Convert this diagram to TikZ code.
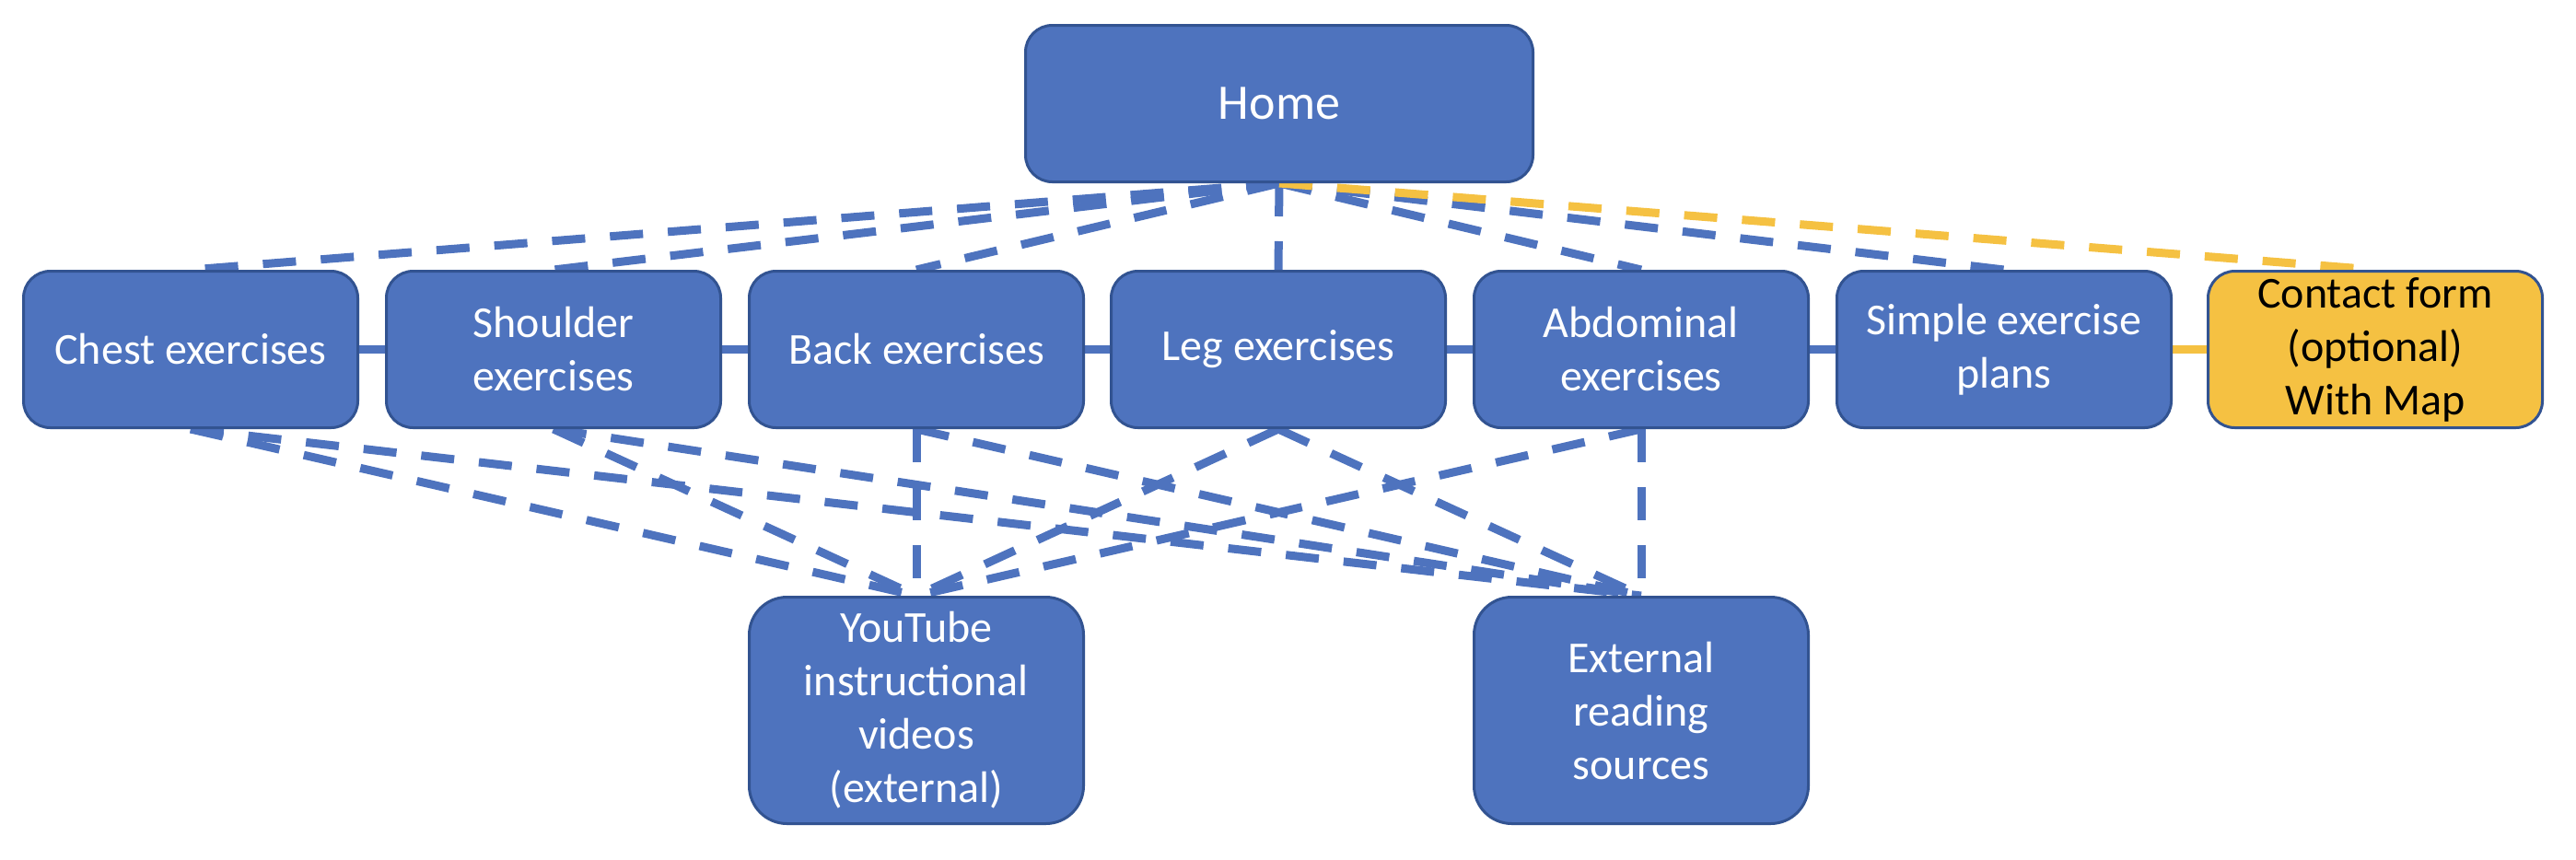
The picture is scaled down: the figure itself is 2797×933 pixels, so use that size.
\documentclass[tikz,border=0pt]{standalone}
\usepackage{fontspec}
\setmainfont{Carlito}
\usetikzlibrary{backgrounds}
\definecolor{boxblue}{RGB}{78,115,190}
\definecolor{boxedge}{RGB}{50,83,145}
\definecolor{boxyellow}{RGB}{245,193,66}
\begin{document}
\begin{tikzpicture}[x=0.5pt,y=-0.5pt,
  box/.style={draw=boxedge, line width=1.5pt, fill=boxblue, rounded corners=14.5pt,
    minimum width=181.5pt, minimum height=85pt, inner sep=0pt, align=center,
    text=white, font=\fontsize{24}{29}\selectfont},
  tallbox/.style={box, minimum height=123pt, rounded corners=20.5pt},
  ybox/.style={box, fill=boxyellow, text=black},
  link/.style={draw=boxblue, line width=4.5pt, dash pattern=on 18pt off 13.5pt},
  ylink/.style={link, draw=boxyellow},
  bar/.style={draw=boxblue, line width=4.5pt},
  ybar/.style={bar, draw=boxyellow}]
\useasboundingbox (0,0) rectangle (2797,933);

\node[box, minimum width=275.5pt, font=\fontsize{27}{32}\selectfont] (home) at (1389,112.5) {Home};

\node[box] (chest)    at (207,379.5)  {Chest exercises};
\node[box] (shoulder) at (601,379.5)  {Shoulder\\exercises};
\node[box] (back)     at (995,379.5)  {Back exercises};
\node[box] (leg)      at (1388,379.5) {Leg exercises};
\node[box] (abd)      at (1782,379.5) {Abdominal\\exercises};
\node[box] (simple)   at (2176,379.5) {Simple exercise\\plans};
\node[ybox] (contact) at (2579,379.5) {Contact form\\(optional)\\With Map};

\node[tallbox] (yt)  at (995,771.5)  {YouTube\\instructional\\videos\\(external)};
\node[tallbox] (ext) at (1782,771.5) {External\\reading\\sources};

\begin{scope}[on background layer]
  \foreach \n in {chest,shoulder,back,leg,abd,simple}{
    \draw[link] (home.south) -- (\n.north);
  }
  \draw[ylink] (home.south) -- (contact.north);
  \draw[bar] (chest.east) -- (shoulder.west);
  \draw[bar] (shoulder.east) -- (back.west);
  \draw[bar] (back.east) -- (leg.west);
  \draw[bar] (leg.east) -- (abd.west);
  \draw[bar] (abd.east) -- (simple.west);
  \draw[ybar] (simple.east) -- (contact.west);
  \foreach \n in {chest,shoulder,back,leg,abd}{
    \draw[link] (\n.south) -- (yt.north);
    \draw[link] (\n.south) -- (ext.north);
  }
\end{scope}
\end{tikzpicture}
\end{document}
